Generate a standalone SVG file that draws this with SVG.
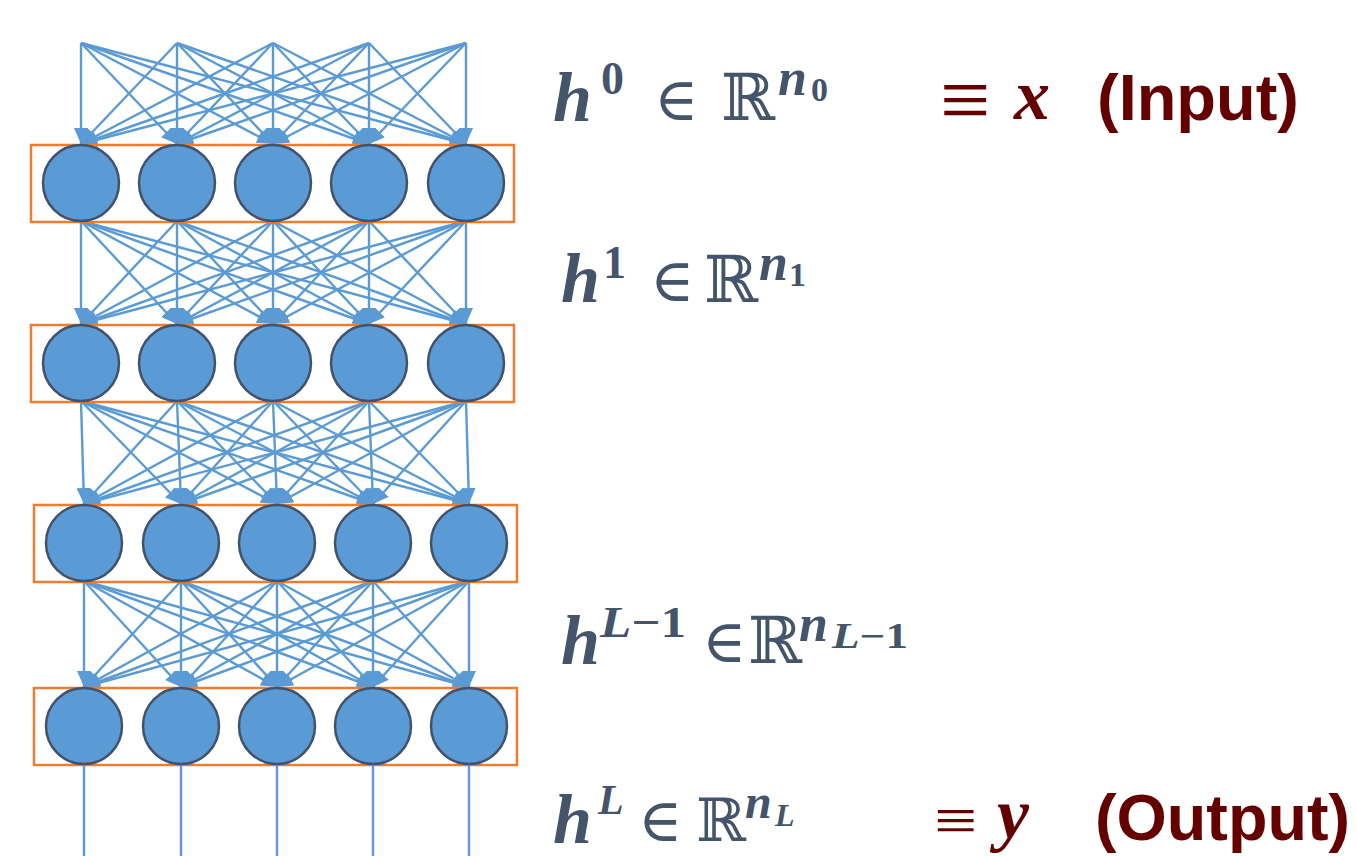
<svg xmlns="http://www.w3.org/2000/svg" width="1357" height="856" viewBox="0 0 1357 856">
<defs>
<marker id="ah" markerUnits="userSpaceOnUse" markerWidth="16" markerHeight="14" refX="16" refY="7" orient="auto">
<path d="M0,0 L16,7 L0,14 z" fill="#5B9BD5"/>
</marker>
<style>
.c{stroke:#5B9BD5;stroke-width:2.4;fill:none;marker-end:url(#ah)}
.o{stroke:#5B9BD5;stroke-width:2.4;fill:none}
.n{fill:#5B9BD5;stroke:#42526A;stroke-width:2.5}
.box{fill:none;stroke:#ED7D31;stroke-width:2.5}
.lbl{fill:#44546A}
.m{font-family:"Liberation Serif",serif;font-weight:bold;font-style:italic}
.d{font-family:"Liberation Serif",serif;font-weight:bold;font-style:normal}
.s{font-family:"DejaVu Serif","DejaVu Sans",serif;font-weight:normal;font-style:normal}
.eq{fill:#650000;font-family:"Liberation Serif","DejaVu Serif",serif;font-weight:normal;font-style:normal}
.r{fill:#650000}
.rl{fill:#650000;font-family:"Liberation Sans",Arial,sans-serif;font-weight:bold;font-style:normal}
</style>
</defs>
<rect width="1357" height="856" fill="#ffffff"/>
<g id="connectors">
<line class="c" x1="81" y1="43" x2="81" y2="144"/><line class="c" x1="81" y1="43" x2="177" y2="144"/><line class="c" x1="81" y1="43" x2="273" y2="144"/><line class="c" x1="81" y1="43" x2="369" y2="144"/><line class="c" x1="81" y1="43" x2="466" y2="144"/>
<line class="c" x1="177" y1="43" x2="81" y2="144"/><line class="c" x1="177" y1="43" x2="177" y2="144"/><line class="c" x1="177" y1="43" x2="273" y2="144"/><line class="c" x1="177" y1="43" x2="369" y2="144"/><line class="c" x1="177" y1="43" x2="466" y2="144"/>
<line class="c" x1="273" y1="43" x2="81" y2="144"/><line class="c" x1="273" y1="43" x2="177" y2="144"/><line class="c" x1="273" y1="43" x2="273" y2="144"/><line class="c" x1="273" y1="43" x2="369" y2="144"/><line class="c" x1="273" y1="43" x2="466" y2="144"/>
<line class="c" x1="369" y1="43" x2="81" y2="144"/><line class="c" x1="369" y1="43" x2="177" y2="144"/><line class="c" x1="369" y1="43" x2="273" y2="144"/><line class="c" x1="369" y1="43" x2="369" y2="144"/><line class="c" x1="369" y1="43" x2="466" y2="144"/>
<line class="c" x1="466" y1="43" x2="81" y2="144"/><line class="c" x1="466" y1="43" x2="177" y2="144"/><line class="c" x1="466" y1="43" x2="273" y2="144"/><line class="c" x1="466" y1="43" x2="369" y2="144"/><line class="c" x1="466" y1="43" x2="466" y2="144"/>

<line class="c" x1="81" y1="221" x2="81" y2="324"/><line class="c" x1="81" y1="221" x2="177" y2="324"/><line class="c" x1="81" y1="221" x2="273" y2="324"/><line class="c" x1="81" y1="221" x2="369" y2="324"/><line class="c" x1="81" y1="221" x2="466" y2="324"/>
<line class="c" x1="177" y1="221" x2="81" y2="324"/><line class="c" x1="177" y1="221" x2="177" y2="324"/><line class="c" x1="177" y1="221" x2="273" y2="324"/><line class="c" x1="177" y1="221" x2="369" y2="324"/><line class="c" x1="177" y1="221" x2="466" y2="324"/>
<line class="c" x1="273" y1="221" x2="81" y2="324"/><line class="c" x1="273" y1="221" x2="177" y2="324"/><line class="c" x1="273" y1="221" x2="273" y2="324"/><line class="c" x1="273" y1="221" x2="369" y2="324"/><line class="c" x1="273" y1="221" x2="466" y2="324"/>
<line class="c" x1="369" y1="221" x2="81" y2="324"/><line class="c" x1="369" y1="221" x2="177" y2="324"/><line class="c" x1="369" y1="221" x2="273" y2="324"/><line class="c" x1="369" y1="221" x2="369" y2="324"/><line class="c" x1="369" y1="221" x2="466" y2="324"/>
<line class="c" x1="466" y1="221" x2="81" y2="324"/><line class="c" x1="466" y1="221" x2="177" y2="324"/><line class="c" x1="466" y1="221" x2="273" y2="324"/><line class="c" x1="466" y1="221" x2="369" y2="324"/><line class="c" x1="466" y1="221" x2="466" y2="324"/>

<line class="c" x1="81" y1="401" x2="84" y2="504"/><line class="c" x1="81" y1="401" x2="181" y2="504"/><line class="c" x1="81" y1="401" x2="277" y2="504"/><line class="c" x1="81" y1="401" x2="373" y2="504"/><line class="c" x1="81" y1="401" x2="469" y2="504"/>
<line class="c" x1="177" y1="401" x2="84" y2="504"/><line class="c" x1="177" y1="401" x2="181" y2="504"/><line class="c" x1="177" y1="401" x2="277" y2="504"/><line class="c" x1="177" y1="401" x2="373" y2="504"/><line class="c" x1="177" y1="401" x2="469" y2="504"/>
<line class="c" x1="273" y1="401" x2="84" y2="504"/><line class="c" x1="273" y1="401" x2="181" y2="504"/><line class="c" x1="273" y1="401" x2="277" y2="504"/><line class="c" x1="273" y1="401" x2="373" y2="504"/><line class="c" x1="273" y1="401" x2="469" y2="504"/>
<line class="c" x1="369" y1="401" x2="84" y2="504"/><line class="c" x1="369" y1="401" x2="181" y2="504"/><line class="c" x1="369" y1="401" x2="277" y2="504"/><line class="c" x1="369" y1="401" x2="373" y2="504"/><line class="c" x1="369" y1="401" x2="469" y2="504"/>
<line class="c" x1="466" y1="401" x2="84" y2="504"/><line class="c" x1="466" y1="401" x2="181" y2="504"/><line class="c" x1="466" y1="401" x2="277" y2="504"/><line class="c" x1="466" y1="401" x2="373" y2="504"/><line class="c" x1="466" y1="401" x2="469" y2="504"/>

<line class="c" x1="84" y1="581" x2="84" y2="687"/><line class="c" x1="84" y1="581" x2="181" y2="687"/><line class="c" x1="84" y1="581" x2="277" y2="687"/><line class="c" x1="84" y1="581" x2="373" y2="687"/><line class="c" x1="84" y1="581" x2="469" y2="687"/>
<line class="c" x1="181" y1="581" x2="84" y2="687"/><line class="c" x1="181" y1="581" x2="181" y2="687"/><line class="c" x1="181" y1="581" x2="277" y2="687"/><line class="c" x1="181" y1="581" x2="373" y2="687"/><line class="c" x1="181" y1="581" x2="469" y2="687"/>
<line class="c" x1="277" y1="581" x2="84" y2="687"/><line class="c" x1="277" y1="581" x2="181" y2="687"/><line class="c" x1="277" y1="581" x2="277" y2="687"/><line class="c" x1="277" y1="581" x2="373" y2="687"/><line class="c" x1="277" y1="581" x2="469" y2="687"/>
<line class="c" x1="373" y1="581" x2="84" y2="687"/><line class="c" x1="373" y1="581" x2="181" y2="687"/><line class="c" x1="373" y1="581" x2="277" y2="687"/><line class="c" x1="373" y1="581" x2="373" y2="687"/><line class="c" x1="373" y1="581" x2="469" y2="687"/>
<line class="c" x1="469" y1="581" x2="84" y2="687"/><line class="c" x1="469" y1="581" x2="181" y2="687"/><line class="c" x1="469" y1="581" x2="277" y2="687"/><line class="c" x1="469" y1="581" x2="373" y2="687"/><line class="c" x1="469" y1="581" x2="469" y2="687"/>

<line class="o" x1="84" y1="764" x2="84" y2="856"/><line class="o" x1="181" y1="764" x2="181" y2="856"/><line class="o" x1="277" y1="764" x2="277" y2="856"/><line class="o" x1="373" y1="764" x2="373" y2="856"/><line class="o" x1="469" y1="764" x2="469" y2="856"/>
</g>
<g id="layer1">
<rect class="box" x="31" y="145" width="483" height="77"/>
<g id="n1_1"><circle class="n" cx="81" cy="183" r="38"/></g>
<g id="n1_2"><circle class="n" cx="177" cy="183" r="38"/></g>
<g id="n1_3"><circle class="n" cx="273" cy="183" r="38"/></g>
<g id="n1_4"><circle class="n" cx="369" cy="183" r="38"/></g>
<g id="n1_5"><circle class="n" cx="466" cy="183" r="38"/></g>
</g>
<g id="layer2">
<rect class="box" x="31" y="325" width="483" height="77"/>
<g id="n2_1"><circle class="n" cx="81" cy="363" r="38"/></g>
<g id="n2_2"><circle class="n" cx="177" cy="363" r="38"/></g>
<g id="n2_3"><circle class="n" cx="273" cy="363" r="38"/></g>
<g id="n2_4"><circle class="n" cx="369" cy="363" r="38"/></g>
<g id="n2_5"><circle class="n" cx="466" cy="363" r="38"/></g>
</g>
<g id="layer3">
<rect class="box" x="34" y="505" width="483" height="77"/>
<g id="n3_1"><circle class="n" cx="84" cy="543" r="38"/></g>
<g id="n3_2"><circle class="n" cx="181" cy="543" r="38"/></g>
<g id="n3_3"><circle class="n" cx="277" cy="543" r="38"/></g>
<g id="n3_4"><circle class="n" cx="373" cy="543" r="38"/></g>
<g id="n3_5"><circle class="n" cx="469" cy="543" r="38"/></g>
</g>
<g id="layer4">
<rect class="box" x="34" y="688" width="483" height="77"/>
<g id="n4_1"><circle class="n" cx="84" cy="726" r="38"/></g>
<g id="n4_2"><circle class="n" cx="181" cy="726" r="38"/></g>
<g id="n4_3"><circle class="n" cx="277" cy="726" r="38"/></g>
<g id="n4_4"><circle class="n" cx="373" cy="726" r="38"/></g>
<g id="n4_5"><circle class="n" cx="469" cy="726" r="38"/></g>
</g>
<g id="label_h0">
<text class="lbl"><tspan class="m" x="553" y="121" font-size="70">h</tspan><tspan class="d" x="601" y="94" font-size="46">0</tspan><tspan class="s" x="654" y="120" font-size="60">∈</tspan><tspan class="s" x="721" y="120" font-size="65">ℝ</tspan><tspan class="m" x="778" y="95" font-size="52">n</tspan><tspan class="d" x="811" y="101" font-size="34">0</tspan></text>
<text><tspan class="eq" x="940" y="130" font-size="90">≡</tspan><tspan class="m r" x="1014" y="119" font-size="72">x</tspan><tspan class="rl" x="1097" y="120" font-size="64" textLength="202" lengthAdjust="spacingAndGlyphs">(Input)</tspan></text>
</g>
<g id="label_h1">
<text class="lbl"><tspan class="m" x="561" y="302" font-size="70">h</tspan><tspan class="d" x="603" y="278" font-size="46">1</tspan><tspan class="s" x="650" y="301" font-size="60">∈</tspan><tspan class="s" x="704" y="302" font-size="65">ℝ</tspan><tspan class="m" x="759" y="280" font-size="52">n</tspan><tspan class="d" x="789" y="286" font-size="34">1</tspan></text>
</g>
<g id="label_hL1">
<text class="lbl"><tspan class="m" x="561" y="664" font-size="70">h</tspan><tspan class="m" x="600" y="637" font-size="44" textLength="86" lengthAdjust="spacingAndGlyphs">L<tspan class="d">−1</tspan></tspan><tspan class="s" x="702" y="662" font-size="60">∈</tspan><tspan class="s" x="748" y="663" font-size="65">ℝ</tspan><tspan class="m" x="799" y="641" font-size="52">n</tspan><tspan class="m" x="832" y="648" font-size="36" textLength="76" lengthAdjust="spacingAndGlyphs">L<tspan class="d">−1</tspan></tspan></text>
</g>
<g id="label_hL">
<text class="lbl"><tspan class="m" x="553" y="843" font-size="70">h</tspan><tspan class="m" x="598" y="814" font-size="42">L</tspan><tspan class="s" x="638" y="841" font-size="60">∈</tspan><tspan class="s" x="696" y="841" font-size="60">ℝ</tspan><tspan class="m" x="745" y="818" font-size="48">n</tspan><tspan class="m" x="775" y="826" font-size="32">L</tspan></text>
<text class="eq" transform="translate(934,842) scale(1.2,1)" font-size="64">≡</text>
<text><tspan class="m r" x="997" y="838" font-size="72">y</tspan><tspan class="rl" x="1095" y="840" font-size="64" textLength="255" lengthAdjust="spacingAndGlyphs">(Output)</tspan></text>
</g>
</svg>
